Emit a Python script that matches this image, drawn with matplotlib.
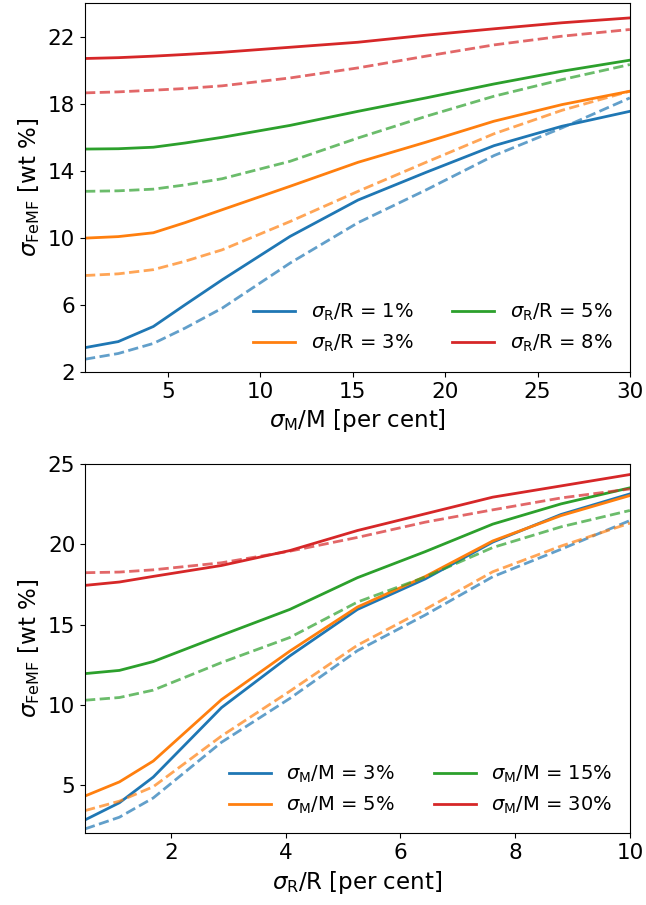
import matplotlib
matplotlib.use("Agg")
import matplotlib.pyplot as plt

# top panel: sigma_FeMF vs sigma_M/M, one curve pair per sigma_R/R
xm = [0.5, 2.3, 4.2, 5.91, 7.92, 11.6, 15.28, 18.96, 22.64, 26.32, 30]
top_solid = {
    "1": [3.45, 3.81, 4.71, 6.0, 7.49, 10.08, 12.25, 13.9, 15.49, 16.65, 17.54],
    "3": [9.98, 10.07, 10.3, 10.9, 11.67, 13.07, 14.5, 15.7, 16.95, 17.94, 18.74],
    "5": [15.29, 15.31, 15.4, 15.65, 15.99, 16.7, 17.54, 18.34, 19.17, 19.93, 20.59],
    "8": [20.69, 20.74, 20.83, 20.93, 21.06, 21.36, 21.66, 22.08, 22.46, 22.82, 23.11],
}
top_dashed = {
    "1": [2.76, 3.1, 3.7, 4.61, 5.8, 8.49, 10.9, 12.85, 14.9, 16.55, 18.34],
    "3": [7.75, 7.85, 8.1, 8.6, 9.28, 10.97, 12.77, 14.5, 16.2, 17.6, 18.74],
    "5": [12.77, 12.8, 12.9, 13.15, 13.52, 14.56, 15.95, 17.24, 18.44, 19.43, 20.33],
    "8": [18.64, 18.7, 18.8, 18.9, 19.06, 19.53, 20.13, 20.83, 21.5, 22.02, 22.42],
}

# bottom panel: sigma_FeMF vs sigma_R/R, one curve pair per sigma_M/M
xr = [0.5, 1.1, 1.69, 2.88, 4.07, 5.25, 6.43, 7.61, 8.8, 10]
bot_solid = {
    "3": [2.83, 3.9, 5.5, 9.83, 13.05, 15.95, 17.85, 20.15, 21.87, 23.15],
    "5": [4.32, 5.2, 6.5, 10.33, 13.35, 16.1, 18.0, 20.22, 21.8, 23.05],
    "15": [11.95, 12.15, 12.7, 14.34, 15.95, 17.93, 19.55, 21.27, 22.53, 23.53],
    "30": [17.45, 17.66, 18.01, 18.69, 19.62, 20.87, 21.91, 22.95, 23.65, 24.36],
}
bot_dashed = {
    "3": [2.27, 3.0, 4.2, 7.67, 10.4, 13.38, 15.6, 17.99, 19.7, 21.49],
    "5": [3.41, 4.0, 4.9, 8.06, 10.85, 13.72, 15.95, 18.3, 19.9, 21.33],
    "15": [10.29, 10.46, 10.92, 12.64, 14.2, 16.41, 17.97, 19.81, 21.1, 22.12],
    "30": [18.24, 18.28, 18.42, 18.86, 19.58, 20.44, 21.39, 22.16, 22.9, 23.46],
}

colors = ["tab:blue", "tab:orange", "tab:green", "tab:red"]
tick_fs = 15.5
label_fs = 16.5
leg_fs = 14

fig = plt.figure(figsize=(6.46, 9.05), dpi=100)
ax1 = fig.add_axes([0.1316, 0.589, 0.8434, 0.4077])
ax2 = fig.add_axes([0.1316, 0.0793, 0.8434, 0.4077])

for c, k in zip(colors, top_solid):
    ax1.plot(xm, top_solid[k], color=c, lw=2, label=r"$\sigma_{\rm R}$/R = " + k + "%")
    ax1.plot(xm, top_dashed[k], color=c, lw=2, ls="--", alpha=0.7)
ax1.set_xlim(0.5, 30)
ax1.set_ylim(2, 24)
ax1.set_yticks([2, 6, 10, 14, 18, 22])
ax1.set_xticks([5, 10, 15, 20, 25, 30])
ax1.set_xlabel(r"$\sigma_{\rm M}$/M [per cent]", fontsize=label_fs)
ax1.set_ylabel(r"$\sigma_{\rm FeMF}$ [wt %]", fontsize=label_fs)
ax1.legend(loc="lower right", ncol=2, frameon=False, fontsize=leg_fs, handlelength=2.15)

for c, k in zip(colors, bot_solid):
    ax2.plot(xr, bot_solid[k], color=c, lw=2, label=r"$\sigma_{\rm M}$/M = " + k + "%")
    ax2.plot(xr, bot_dashed[k], color=c, lw=2, ls="--", alpha=0.7)
ax2.set_xlim(0.5, 10)
ax2.set_ylim(2, 25)
ax2.set_yticks([5, 10, 15, 20, 25])
ax2.set_xticks([2, 4, 6, 8, 10])
ax2.set_xlabel(r"$\sigma_{\rm R}$/R [per cent]", fontsize=label_fs)
ax2.set_ylabel(r"$\sigma_{\rm FeMF}$ [wt %]", fontsize=label_fs)
ax2.legend(loc="lower right", ncol=2, frameon=False, fontsize=leg_fs, handlelength=2.15)

for ax in (ax1, ax2):
    ax.tick_params(labelsize=tick_fs)

fig.savefig("out.png", dpi=100)
